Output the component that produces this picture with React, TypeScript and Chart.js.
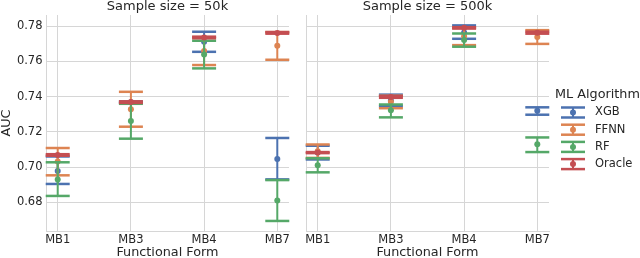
import React, { useEffect, useRef } from 'react';
import { Chart, registerables } from 'chart.js';

Chart.register(...registerables);

// ---------- data ----------
const CATEGORIES = ['MB1', 'MB3', 'MB4', 'MB7'];
const Y_TICKS = [0.68, 0.70, 0.72, 0.74, 0.76, 0.78];
const Y_MIN = 0.6637;
const Y_MAX = 0.7863;
const SERIES_NAMES = ['XGB', 'FFNN', 'RF', 'Oracle'];
const SERIES_COLORS = ['#4c72b0', '#dd8452', '#55a868', '#c44e52'];
const PANEL_TITLES = ['Sample size = 50k', 'Sample size = 500k'];

// Sample size = 50k
const XGB_50K_MEAN = [0.6978, 0.7368, 0.7711, 0.7046];
const XGB_50K_LOW = [0.6904, 0.7364, 0.7654, 0.6930];
const XGB_50K_HIGH = [0.7060, 0.7372, 0.7768, 0.7165];

const FFNN_50K_MEAN = [0.7032, 0.7328, 0.7658, 0.7688];
const FFNN_50K_LOW = [0.6953, 0.7229, 0.7579, 0.7609];
const FFNN_50K_HIGH = [0.7108, 0.7427, 0.7736, 0.7766];

const RF_50K_MEAN = [0.6930, 0.7261, 0.7639, 0.6810];
const RF_50K_LOW = [0.6836, 0.7161, 0.7560, 0.6694];
const RF_50K_HIGH = [0.7027, 0.7359, 0.7717, 0.6926];

const ORACLE_50K_MEAN = [0.7068, 0.7369, 0.7736, 0.7761];
const ORACLE_50K_LOW = [0.7064, 0.7364, 0.7731, 0.7757];
const ORACLE_50K_HIGH = [0.7073, 0.7373, 0.7740, 0.7766];

// Sample size = 500k
const XGB_500K_MEAN = [0.7082, 0.7378, 0.7764, 0.7320];
const XGB_500K_LOW = [0.7043, 0.7346, 0.7728, 0.7297];
const XGB_500K_HIGH = [0.7121, 0.7411, 0.7804, 0.7339];

const FFNN_500K_MEAN = [0.7090, 0.7370, 0.7742, 0.7738];
const FFNN_500K_LOW = [0.7052, 0.7334, 0.7692, 0.7699];
const FFNN_500K_HIGH = [0.7128, 0.7405, 0.7790, 0.7777];

const RF_500K_MEAN = [0.7010, 0.7322, 0.7721, 0.7130];
const RF_500K_LOW = [0.6970, 0.7282, 0.7683, 0.7085];
const RF_500K_HIGH = [0.7050, 0.7355, 0.7758, 0.7168];

const ORACLE_500K_MEAN = [0.7082, 0.7398, 0.7790, 0.7762];
const ORACLE_500K_LOW = [0.7079, 0.7393, 0.7786, 0.7757];
const ORACLE_500K_HIGH = [0.7085, 0.7403, 0.7794, 0.7768];

const PANEL_50K = [
  [XGB_50K_MEAN, XGB_50K_LOW, XGB_50K_HIGH],
  [FFNN_50K_MEAN, FFNN_50K_LOW, FFNN_50K_HIGH],
  [RF_50K_MEAN, RF_50K_LOW, RF_50K_HIGH],
  [ORACLE_50K_MEAN, ORACLE_50K_LOW, ORACLE_50K_HIGH],
];
const PANEL_500K = [
  [XGB_500K_MEAN, XGB_500K_LOW, XGB_500K_HIGH],
  [FFNN_500K_MEAN, FFNN_500K_LOW, FFNN_500K_HIGH],
  [RF_500K_MEAN, RF_500K_LOW, RF_500K_HIGH],
  [ORACLE_500K_MEAN, ORACLE_500K_LOW, ORACLE_500K_HIGH],
];

// ---------- styling ----------
const FONT = '"DejaVu Sans", "Liberation Sans", sans-serif';
const TEXT = '#262626';
const GRID = '#d6d6d6';
const CAP_HALF = 12;

Chart.defaults.font.family = FONT;

const errorBarPlugin = {
  id: 'errorBars',
  beforeDatasetDraw(chart: any, args: any) {
    const ds: any = chart.data.datasets[args.index];
    const xs = chart.scales.x;
    const ys = chart.scales.y;
    const ctx = chart.ctx;
    ctx.save();
    ctx.strokeStyle = ds.borderColor;
    ctx.lineCap = 'butt';
    ds.data.forEach((p: any) => {
      const x = xs.getPixelForValue(p.x);
      const yl = ys.getPixelForValue(p.lo);
      const yh = ys.getPixelForValue(p.hi);
      ctx.lineWidth = 2;
      ctx.beginPath();
      ctx.moveTo(x, yl);
      ctx.lineTo(x, yh);
      ctx.stroke();
      ctx.lineWidth = 2.5;
      [yl, yh].forEach((y) => {
        ctx.beginPath();
        ctx.moveTo(x - CAP_HALF, y);
        ctx.lineTo(x + CAP_HALF, y);
        ctx.stroke();
      });
    });
    ctx.restore();
  },
};

const legendPlugin = {
  id: 'mlLegend',
  afterDraw(chart: any) {
    const ctx = chart.ctx;
    const area = chart.chartArea;
    const x0 = area.right + 6;
    ctx.save();
    ctx.fillStyle = TEXT;
    ctx.textBaseline = 'middle';
    ctx.textAlign = 'left';
    ctx.font = `12.8px ${FONT}`;
    ctx.fillText('ML Algorithm', x0, 95);
    ctx.font = `11.5px ${FONT}`;
    SERIES_NAMES.forEach((name, i) => {
      const cy = 112.5 + i * 17.2;
      const gx = x0 + 18;
      const color = SERIES_COLORS[i];
      ctx.strokeStyle = color;
      ctx.lineWidth = 2;
      ctx.beginPath();
      ctx.moveTo(gx, cy - 5);
      ctx.lineTo(gx, cy + 5);
      ctx.stroke();
      ctx.lineWidth = 2.5;
      [cy - 5, cy + 5].forEach((y) => {
        ctx.beginPath();
        ctx.moveTo(gx - CAP_HALF, y);
        ctx.lineTo(gx + CAP_HALF, y);
        ctx.stroke();
      });
      ctx.fillStyle = color;
      ctx.beginPath();
      ctx.arc(gx, cy, 3, 0, Math.PI * 2);
      ctx.fill();
      ctx.fillStyle = TEXT;
      ctx.fillText(name, x0 + 40, cy);
    });
    ctx.restore();
  },
};

function makeConfig(panel: number[][][], title: string, isLeft: boolean): any {
  const datasets = panel.map(([mean, low, high], si) => ({
    type: 'scatter',
    label: SERIES_NAMES[si],
    data: CATEGORIES.map((_, i) => ({ x: i, y: mean[i], lo: low[i], hi: high[i] })),
    backgroundColor: SERIES_COLORS[si],
    borderColor: SERIES_COLORS[si],
    pointRadius: 3,
    pointHoverRadius: 3,
    pointBorderWidth: 0,
    order: panel.length - 1 - si,
  }));
  return {
    type: 'scatter',
    data: { datasets },
    options: {
      responsive: false,
      animation: false,
      events: [],
      layout: { padding: { left: 0, right: isLeft ? 11 : 91, top: 0, bottom: 0 } },
      plugins: {
        legend: { display: false },
        tooltip: { enabled: false },
        title: {
          display: true,
          text: title,
          fullSize: false,
          color: TEXT,
          font: { size: 13, weight: 'normal', lineHeight: 1 },
          padding: { top: 0, bottom: 2 },
        },
      },
      scales: {
        x: {
          type: 'linear',
          min: -0.16,
          max: 3.16,
          afterBuildTicks: (s: any) => {
            s.ticks = CATEGORIES.map((_, i) => ({ value: i }));
          },
          afterFit: (s: any) => {
            s.height = 27;
          },
          ticks: {
            callback: (v: any) => CATEGORIES[Math.round(v)],
            autoSkip: false,
            maxRotation: 0,
            padding: 2,
            color: TEXT,
            font: { size: 11.5 },
          },
          grid: { color: GRID, lineWidth: 1, drawTicks: false },
          border: { color: GRID, width: 1 },
          title: {
            display: true,
            text: 'Functional Form',
            color: TEXT,
            font: { size: 12.8, lineHeight: 1 },
            padding: { top: 0, bottom: -1.5 },
          },
        },
        y: {
          type: 'linear',
          min: Y_MIN,
          max: Y_MAX,
          afterBuildTicks: (s: any) => {
            s.ticks = Y_TICKS.map((v) => ({ value: v }));
          },
          afterFit: (s: any) => {
            s.width = isLeft ? 46 : 6;
          },
          ticks: {
            display: isLeft,
            callback: (v: any) => Number(v).toFixed(2),
            padding: 3.5,
            color: TEXT,
            font: { size: 11.5 },
          },
          grid: { color: GRID, lineWidth: 1, drawTicks: false },
          border: { color: GRID, width: 1 },
          title: {
            display: isLeft,
            text: 'AUC',
            color: TEXT,
            font: { size: 12.8, lineHeight: 1 },
            padding: { top: 0, bottom: 0 },
          },
        },
      },
    },
    plugins: isLeft ? [errorBarPlugin] : [errorBarPlugin, legendPlugin],
  };
}

export default function App() {
  const leftRef = useRef<HTMLCanvasElement>(null);
  const rightRef = useRef<HTMLCanvasElement>(null);

  useEffect(() => {
    const left = new Chart(leftRef.current as HTMLCanvasElement, makeConfig(PANEL_50K, PANEL_TITLES[0], true));
    const right = new Chart(rightRef.current as HTMLCanvasElement, makeConfig(PANEL_500K, PANEL_TITLES[1], false));
    return () => {
      left.destroy();
      right.destroy();
    };
  }, []);

  return (
    <div style={{ position: 'absolute', left: 0, top: 0, width: 640, height: 258, background: '#fff', overflow: 'hidden' }}>
      <canvas ref={leftRef} width={300} height={258} style={{ position: 'absolute', left: 0, top: 0, display: 'block' }} />
      <canvas ref={rightRef} width={340} height={258} style={{ position: 'absolute', left: 300, top: 0, display: 'block' }} />
    </div>
  );
}
